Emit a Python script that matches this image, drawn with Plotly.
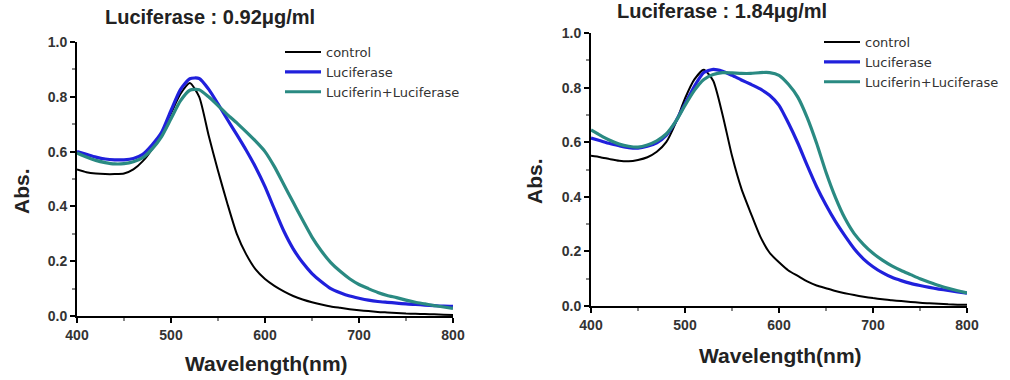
import plotly.graph_objects as go

# Wavelength grid (nm)
wavelength = list(range(400, 801, 10))

# Panel A: Luciferase 0.92 ug/ml
a_control = [0.535, 0.525, 0.52, 0.518, 0.518, 0.52, 0.535, 0.565, 0.61, 0.67,
             0.74, 0.81, 0.85, 0.80, 0.66, 0.53, 0.41, 0.30, 0.225, 0.17,
             0.135, 0.11, 0.09, 0.073, 0.06, 0.05, 0.042, 0.035, 0.03, 0.025,
             0.021, 0.018, 0.015, 0.013, 0.011, 0.009, 0.008, 0.007, 0.006, 0.005, 0.004]
a_luciferase = [0.60, 0.59, 0.58, 0.573, 0.57, 0.57, 0.575, 0.59, 0.625, 0.67,
                0.75, 0.826, 0.866, 0.867, 0.828, 0.774, 0.717, 0.662, 0.605, 0.543,
                0.472, 0.39, 0.31, 0.245, 0.195, 0.155, 0.125, 0.10, 0.085, 0.073,
                0.065, 0.058, 0.053, 0.05, 0.047, 0.044, 0.042, 0.04, 0.038, 0.036, 0.035]
a_luciferin = [0.595, 0.58, 0.568, 0.56, 0.555, 0.556, 0.563, 0.578, 0.61, 0.655,
               0.72, 0.785, 0.824, 0.826, 0.800, 0.768, 0.735, 0.705, 0.672, 0.638,
               0.60, 0.545, 0.48, 0.415, 0.35, 0.288, 0.237, 0.195, 0.163, 0.136,
               0.115, 0.10, 0.086, 0.075, 0.067, 0.058, 0.05, 0.044, 0.038, 0.033, 0.028]

# Panel B: Luciferase 1.84 ug/ml
b_control = [0.55, 0.545, 0.538, 0.532, 0.53, 0.535, 0.545, 0.565, 0.60, 0.67,
             0.76, 0.83, 0.865, 0.825, 0.70, 0.55, 0.43, 0.34, 0.255, 0.195,
             0.16, 0.13, 0.11, 0.09, 0.075, 0.065, 0.055, 0.047, 0.04, 0.034,
             0.029, 0.025, 0.021, 0.018, 0.015, 0.012, 0.01, 0.008, 0.006, 0.005, 0.005]
b_luciferase = [0.615, 0.605, 0.595, 0.587, 0.58, 0.578, 0.585, 0.598, 0.625, 0.675,
                0.74, 0.805, 0.855, 0.867, 0.86, 0.845, 0.828, 0.812, 0.795, 0.772,
                0.735, 0.67, 0.597, 0.515, 0.437, 0.37, 0.31, 0.258, 0.21, 0.172,
                0.144, 0.122, 0.105, 0.093, 0.083, 0.075, 0.068, 0.062, 0.057, 0.052, 0.047]
b_luciferin = [0.645, 0.625, 0.607, 0.593, 0.585, 0.582, 0.59, 0.605, 0.63, 0.675,
               0.735, 0.79, 0.83, 0.848, 0.855, 0.854, 0.852, 0.852, 0.855, 0.855,
               0.845, 0.812, 0.765, 0.69, 0.596, 0.49, 0.398, 0.322, 0.265, 0.225,
               0.193, 0.168, 0.147, 0.13, 0.115, 0.10, 0.087, 0.075, 0.065, 0.056, 0.048]

series_names = ["control", "Luciferase", "Luciferin+Luciferase"]
panel_titles = ["Luciferase : 0.92\u03bcg/ml", "Luciferase : 1.84\u03bcg/ml"]
x_ticks = [400, 500, 600, 700, 800]
y_ticks = [0.0, 0.2, 0.4, 0.6, 0.8, 1.0]

colors = ["#000000", "#2020dc", "#2a8a82"]
widths = [2, 3.2, 3.2]

W, H = 1010, 380

def px_x(p):
    return p / W

def px_y(p):
    return 1 - p / H

fig = go.Figure()

panels = [
    dict(data=[a_control, a_luciferase, a_luciferin], xa="x", ya="y", legend="legend"),
    dict(data=[b_control, b_luciferase, b_luciferin], xa="x2", ya="y2", legend="legend2"),
]
for panel in panels:
    for name, ys, c, w in zip(series_names, panel["data"], colors, widths):
        fig.add_trace(go.Scatter(
            x=wavelength, y=ys, mode="lines", name=name,
            line=dict(color=c, width=w, shape="spline", smoothing=0.6),
            xaxis=panel["xa"], yaxis=panel["ya"], legend=panel["legend"],
        ))

tick_font = dict(family="Liberation Sans, Arial, sans-serif", size=14, color="#333333")
title_font = dict(family="Liberation Sans, Arial, sans-serif", size=21, color="#222222")

def xaxis(domain, anchor):
    return dict(
        domain=domain, anchor=anchor, range=[400, 800],
        tickvals=x_ticks, ticktext=[f"<b>{v}</b>" for v in x_ticks],
        ticks="outside", ticklen=5, tickwidth=1.5, tickcolor="black",
        minor=dict(dtick=50, ticks="outside", ticklen=3, tickcolor="#888888"),
        showline=True, linecolor="black", linewidth=2,
        showgrid=False, zeroline=False, tickfont=tick_font,
    )

def yaxis(domain, anchor):
    return dict(
        domain=domain, anchor=anchor, range=[0, 1.0],
        tickvals=y_ticks, ticktext=[f"<b>{v:.1f}</b>" for v in y_ticks],
        ticks="outside", ticklen=5, tickwidth=1.5, tickcolor="black",
        minor=dict(dtick=0.1, ticks="outside", ticklen=3, tickcolor="#888888"),
        showline=True, linecolor="black", linewidth=2,
        showgrid=False, zeroline=False, tickfont=tick_font,
    )

legend_font = dict(family="DejaVu Sans, sans-serif", size=13, color="#333333")

fig.update_layout(
    width=W, height=H,
    margin=dict(l=0, r=0, t=0, b=0, autoexpand=False),
    paper_bgcolor="white", plot_bgcolor="white",
    xaxis=xaxis([px_x(77), px_x(453)], "y"),
    yaxis=yaxis([px_y(316), px_y(42)], "x"),
    xaxis2=xaxis([px_x(591), px_x(967)], "y2"),
    yaxis2=yaxis([px_y(306), px_y(33)], "x2"),
    legend=dict(x=px_x(280), y=px_y(37), xanchor="left", yanchor="top",
                font=legend_font, bgcolor="rgba(0,0,0,0)", tracegroupgap=0,
                itemwidth=36),
    legend2=dict(x=px_x(819), y=px_y(27), xanchor="left", yanchor="top",
                 font=legend_font, bgcolor="rgba(0,0,0,0)", tracegroupgap=0,
                 itemwidth=36),
    showlegend=True,
)

annotations = [
    dict(text=f"<b>{panel_titles[0]}</b>", x=px_x(210), y=px_y(17)),
    dict(text=f"<b>{panel_titles[1]}</b>", x=px_x(722), y=px_y(11)),
    dict(text="<b>Wavelength(nm)</b>", x=px_x(266), y=px_y(363), font=title_font),
    dict(text="<b>Wavelength(nm)</b>", x=px_x(780), y=px_y(355), font=title_font),
    dict(text="<b>Abs.</b>", x=px_x(21), y=px_y(191), textangle=-90, font=title_font),
    dict(text="<b>Abs.</b>", x=px_x(534), y=px_y(181), textangle=-90, font=title_font),
]
for a in annotations:
    fig.add_annotation(
        xref="paper", yref="paper", x=a["x"], y=a["y"], text=a["text"],
        showarrow=False, xanchor="center", yanchor="middle",
        textangle=a.get("textangle", 0),
        font=a.get("font", dict(family="Liberation Sans, Arial, sans-serif", size=20, color="#222222")),
    )

fig.write_html("out.html")
